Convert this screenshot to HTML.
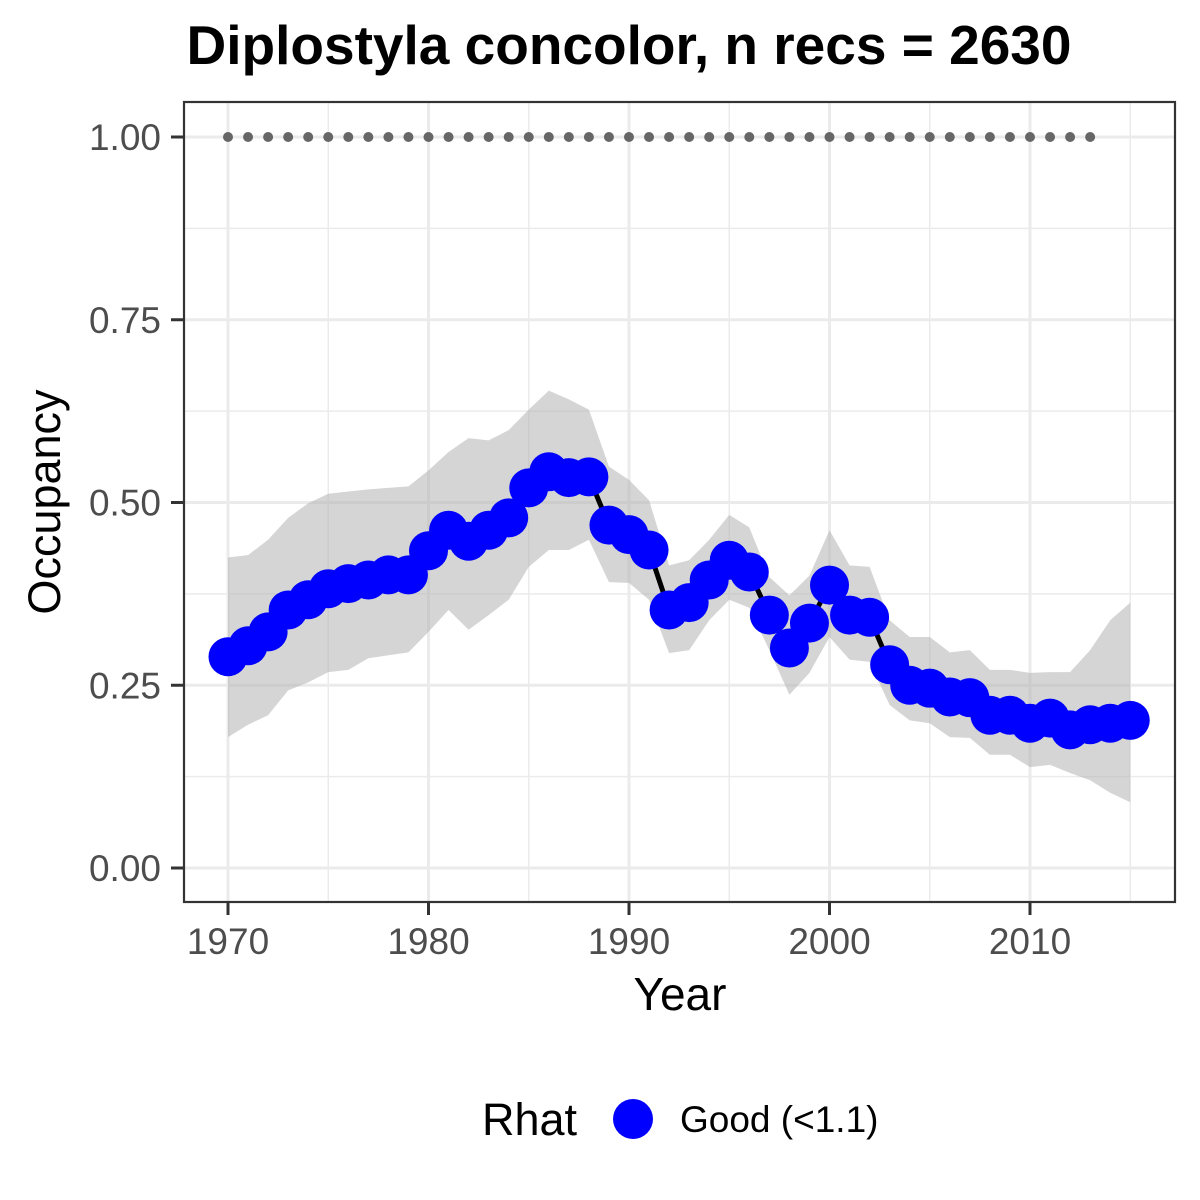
<!DOCTYPE html>
<html><head><meta charset="utf-8"><style>
html,body{margin:0;padding:0;background:#fff;}
svg{display:block;font-family:"Liberation Sans",Arial,sans-serif;}
</style></head><body>
<svg id="chart" width="1200" height="1200" viewBox="0 0 1200 1200" xmlns="http://www.w3.org/2000/svg">
<rect width="1200" height="1200" fill="#fff"/>
<text x="629" y="64" text-anchor="middle" font-size="55" font-weight="bold" fill="#000">Diplostyla concolor, n recs = 2630</text>
<g id="grid"></g>
<g id="band"></g>
<g id="lines"></g>
<g id="points"></g>
<rect x="184" y="102" width="991" height="800" fill="none" stroke="#333" stroke-width="2.2"/>
<g id="axes"></g>
<text x="680" y="1010" text-anchor="middle" font-size="46" fill="#000">Year</text>
<text transform="translate(60,502) rotate(-90)" text-anchor="middle" font-size="45" fill="#000">Occupancy</text>
<g>
<text x="482" y="1135" font-size="45" fill="#000">Rhat</text>
<circle cx="633" cy="1119" r="20" fill="#0000ff"/>
<text x="680" y="1132" font-size="37" fill="#000">Good (&lt;1.1)</text>
</g>
</svg>
<script>
const years=[1970,1971,1972,1973,1974,1975,1976,1977,1978,1979,1980,1981,1982,1983,1984,1985,1986,1987,1988,1989,1990,1991,1992,1993,1994,1995,1996,1997,1998,1999,2000,2001,2002,2003,2004,2005,2006,2007,2008,2009,2010,2011,2012,2013,2014,2015];
const occupancy=[0.289,0.304,0.323,0.353,0.367,0.382,0.389,0.394,0.401,0.401,0.434,0.462,0.447,0.462,0.479,0.520,0.542,0.534,0.535,0.469,0.456,0.435,0.353,0.363,0.394,0.421,0.405,0.346,0.301,0.335,0.387,0.346,0.343,0.278,0.250,0.246,0.234,0.233,0.209,0.209,0.198,0.205,0.189,0.196,0.198,0.202];
const upper=[0.425,0.428,0.449,0.479,0.499,0.512,0.515,0.518,0.520,0.522,0.544,0.569,0.588,0.585,0.599,0.627,0.653,0.641,0.627,0.549,0.531,0.503,0.414,0.421,0.449,0.483,0.466,0.398,0.373,0.400,0.462,0.414,0.412,0.339,0.316,0.316,0.295,0.298,0.271,0.271,0.267,0.268,0.268,0.298,0.339,0.363];
const lower=[0.179,0.196,0.209,0.243,0.254,0.268,0.271,0.287,0.291,0.295,0.323,0.353,0.326,0.346,0.367,0.412,0.435,0.435,0.449,0.391,0.390,0.367,0.294,0.298,0.339,0.367,0.356,0.298,0.237,0.267,0.316,0.285,0.282,0.223,0.202,0.198,0.179,0.178,0.155,0.155,0.138,0.141,0.130,0.120,0.103,0.090];
const refYears=[1970,1971,1972,1973,1974,1975,1976,1977,1978,1979,1980,1981,1982,1983,1984,1985,1986,1987,1988,1989,1990,1991,1992,1993,1994,1995,1996,1997,1998,1999,2000,2001,2002,2003,2004,2005,2006,2007,2008,2009,2010,2011,2012,2013];
const refValue=1.0;
const xTicks=[1970,1980,1990,2000,2010];
const yTicks=[0,0.25,0.5,0.75,1.0];
const yTickLabels=["0.00","0.25","0.50","0.75","1.00"];

const NS="http://www.w3.org/2000/svg";
const X=v=>228+(v-1970)*20.05;
const Y=v=>868-v*731;
function mk(tag,attrs,parent){const e=document.createElementNS(NS,tag);for(const k in attrs)e.setAttribute(k,attrs[k]);document.getElementById(parent).appendChild(e);return e;}

const minorX=[1975,1985,1995,2005,2015], minorY=[0.125,0.375,0.625,0.875];
minorX.forEach(v=>{const e=mk('line',{x1:X(v),x2:X(v),y1:102,y2:902,stroke:'#ebebeb','stroke-width':1.5},'grid');

});
minorY.forEach(v=>{const e=mk('line',{x1:184,x2:1175,y1:Y(v),y2:Y(v),stroke:'#ebebeb','stroke-width':1.5},'grid');

});
xTicks.forEach(v=>{const e=mk('line',{x1:X(v),x2:X(v),y1:102,y2:902,stroke:'#ebebeb','stroke-width':3},'grid');

});
yTicks.forEach(v=>{const e=mk('line',{x1:184,x2:1175,y1:Y(v),y2:Y(v),stroke:'#ebebeb','stroke-width':3},'grid');

});

let d='';
years.forEach((yr,i)=>{d+=(i?'L':'M')+X(yr)+','+Y(upper[i]);});
for(let i=years.length-1;i>=0;i--)d+='L'+X(years[i])+','+Y(lower[i]);
d+='Z';
const band=mk('path',{d:d,fill:'#b3b3b3','fill-opacity':0.55},'band');



const pl=mk('polyline',{points:years.map((yr,i)=>X(yr)+','+Y(occupancy[i])).join(' '),fill:'none',stroke:'#000','stroke-width':5},'lines');



refYears.forEach(yr=>{const c=mk('circle',{cx:X(yr),cy:Y(refValue),r:5,fill:'#666'},'lines');

});

years.forEach((yr,i)=>{const c=mk('circle',{cx:X(yr),cy:Y(occupancy[i]),r:19.5,fill:'#0000ff'},'points');

});

xTicks.forEach(v=>{const t=mk('line',{x1:X(v),x2:X(v),y1:902,y2:915,stroke:'#333','stroke-width':3},'axes');


const l=mk('text',{x:X(v),y:954,'text-anchor':'middle','font-size':37,fill:'#4d4d4d'},'axes');
l.textContent=String(v);

});
yTicks.forEach((v,i)=>{const t=mk('line',{x1:171,x2:184,y1:Y(v),y2:Y(v),stroke:'#333','stroke-width':3},'axes');


const l=mk('text',{x:161,y:Y(v)+13,'text-anchor':'end','font-size':37,fill:'#4d4d4d'},'axes');
l.textContent=yTickLabels[i];

});
</script>
</body></html>
